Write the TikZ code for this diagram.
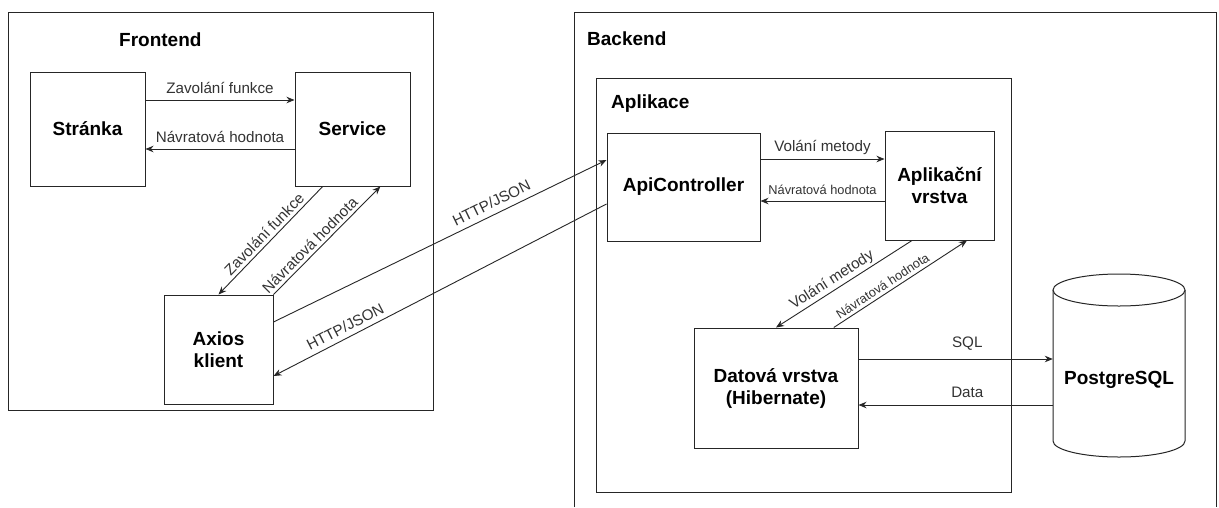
\documentclass[tikz,border=0pt]{standalone}
\usepackage{fontspec}
\setmainfont{Liberation Sans}
\usetikzlibrary{arrows.meta,calc}
\begin{document}
\begin{tikzpicture}[x=1pt,y=-1pt,
  box/.style={draw=black!85,line width=1pt,inner sep=0pt,font=\fontsize{19}{22}\selectfont\bfseries,align=center},
  title/.style={inner sep=0pt,font=\fontsize{19}{22}\selectfont\bfseries,anchor=west},
  arr/.style={draw=black!85,line width=0.9pt,-{Stealth[length=8pt,width=6.5pt]}},
  lbl/.style={inner sep=0pt,text=black!80,font=\fontsize{15.2}{18}\selectfont},
  slbl/.style={inner sep=0pt,text=black!80,font=\fontsize{12.8}{15}\selectfont},
]
\useasboundingbox[fill=white] (0,0) rectangle (1219,507);
% containers
\draw[draw=black!85,line width=1pt] (8,12) rectangle (433,410);
\draw[draw=black!85,line width=1pt] (574,507) -- (574,12) -- (1216,12) -- (1216,507);
\draw[draw=black!85,line width=1pt] (596,78) rectangle (1011,492);
\node[title] (tfront) at (119,40) {Frontend};
\node[title] (tback) at (587,39) {Backend};
\node[title] (tapp) at (611,104) {Aplikace};
% nodes
\node[box,minimum width=115pt,minimum height=114pt] (stranka) at (87.5,129) {Stránka};
\node[box,minimum width=115pt,minimum height=114pt] (service) at (352.5,129) {Service};
\node[box,minimum width=109pt,minimum height=109pt] (axios) at (218.5,349.5) {Axios\\klient};
\node[box,minimum width=153pt,minimum height=108pt] (api) at (683.5,187) {ApiController};
\node[box,minimum width=109pt,minimum height=109pt] (aplik) at (939.5,185.5) {Aplikační\\vrstva};
\node[box,minimum width=164pt,minimum height=120pt] (datova) at (776,388) {Datová vrstva\\(Hibernate)};
% cylinder
\node[inner sep=0pt,minimum width=132pt,minimum height=183pt] (pg) at (1119,365.5) {};
\draw[draw=black!85,line width=1pt,fill=white] (1053,290) -- (1053,441) arc[start angle=180,end angle=360,x radius=66,y radius=-16] -- (1185,290);
\draw[draw=black!85,line width=1pt,fill=white] (1119,290) ellipse[x radius=66,y radius=16];
\node[box,draw=none] (pgtext) at (1119,380) {PostgreSQL};
% frontend arrows
\draw[arr] (stranka.east |- {(0,100)}) -- node[lbl,above=6pt] {Zavolání funkce} (service.west |- {(0,100)});
\draw[arr] (service.west |- {(0,149)}) -- node[lbl,above=6pt] {Návratová hodnota} (stranka.east |- {(0,149)});
\draw[arr] ($(service.south west)!0.243!(service.south east)$) -- node[lbl,sloped,above=3pt] {Zavolání funkce} (axios.north);
\draw[arr] (axios.north east) -- node[lbl,sloped,above=3pt,pos=0.4] {Návratová hodnota} ($(service.south west)!0.74!(service.south east)$);
% HTTP
\draw[arr] (axios.east |- {(0,322)}) -- node[lbl,sloped,above=6pt,pos=0.67] {HTTP/JSON} (api.west |- {(0,160)});
\draw[arr] (api.west |- {(0,204)}) -- node[lbl,sloped,above=5pt,pos=0.77] {HTTP/JSON} (axios.east |- {(0,376)});
% backend arrows
\draw[arr] (api.east |- {(0,159)}) -- node[lbl,above=4pt] {Volání metody} (aplik.west |- {(0,159)});
\draw[arr] (aplik.west |- {(0,201)}) -- node[slbl,above=6pt] {Návratová hodnota} (api.east |- {(0,201)});
\draw[arr] ($(aplik.south west)!0.25!(aplik.south east)$) -- node[lbl,sloped,above=2pt,pos=0.55] {Volání metody} (datova.north);
\draw[arr] ($(datova.north west)!0.85!(datova.north east)$) -- node[slbl,sloped,above=3pt,pos=0.4] {Návratová hodnota} ($(aplik.south west)!0.75!(aplik.south east)$);
% database arrows
\draw[arr] (datova.east |- {(0,359)}) -- node[lbl,above=8pt,pos=0.56] {SQL} (pg.west |- {(0,359)});
\draw[arr] (pg.west |- {(0,405)}) -- node[lbl,above=7pt,pos=0.44] {Data} (datova.east |- {(0,405)});
\end{tikzpicture}
\end{document}
